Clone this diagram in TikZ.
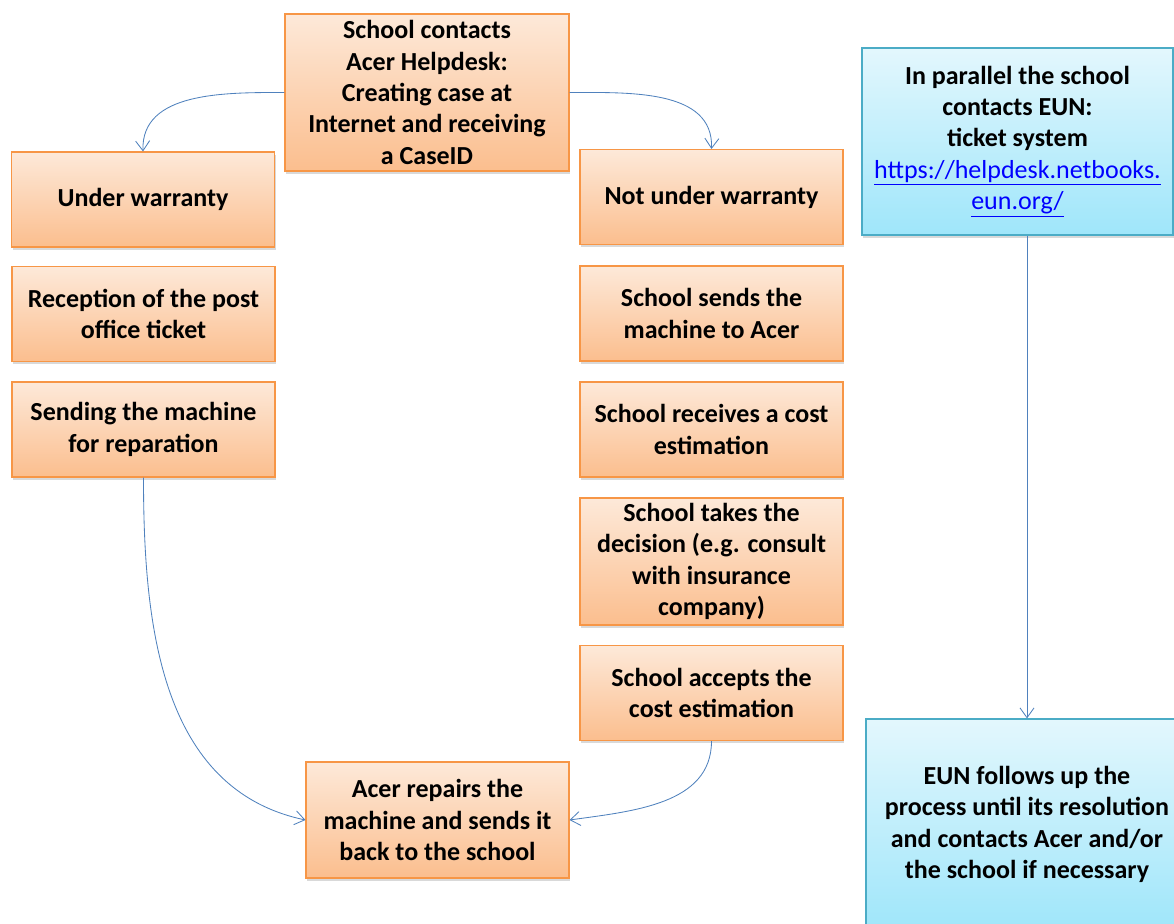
\documentclass[tikz,border=0pt]{standalone}
\usepackage{fontspec}
\setmainfont{Carlito}
\usetikzlibrary{arrows.meta,shadows}

\definecolor{orangetop}{RGB}{253,233,217}
\definecolor{orangebot}{RGB}{251,190,142}
\definecolor{orangeline}{RGB}{247,150,70}
\definecolor{bluetop}{RGB}{227,247,253}
\definecolor{bluebot}{RGB}{159,230,250}
\definecolor{blueline}{RGB}{75,172,198}
\definecolor{flowblue}{RGB}{79,129,189}
\definecolor{linkblue}{RGB}{0,0,255}

\tikzset{
  boxtext/.style={align=center, inner sep=2pt,
    font=\fontsize{18.5}{22.3}\selectfont\bfseries},
  stepbox/.style={boxtext, draw=orangeline, line width=0.8pt,
    top color=orangetop, bottom color=orangebot,
    minimum width=6.575cm, minimum height=2.375cm,
    drop shadow={opacity=0.3, shadow xshift=1pt, shadow yshift=-2pt}},
  eunbox/.style={boxtext, draw=blueline, line width=0.8pt,
    top color=bluetop, bottom color=bluebot,
    drop shadow={opacity=0.3, shadow xshift=1pt, shadow yshift=-2pt}},
  flow/.style={draw=flowblue, line width=0.6pt,
    -{Straight Barb[length=7pt, width=10pt]}}
}

\begin{document}
\begin{tikzpicture}
  \useasboundingbox (0, 0) rectangle (29.35, -23.1);
  \clip (0, 0) rectangle (29.35, -23.1);

  % Helpdesk
  \node[stepbox, minimum width=7.1cm, minimum height=3.925cm] (helpdesk) at (10.675, -2.3125)
    {School contacts\\Acer Helpdesk:\\Creating case at\\Internet and receiving\\a CaseID};

  % Under warranty
  \node[stepbox] (warranty) at (3.575, -4.9875) {Under warranty};
  \node[stepbox] (ticket) at (3.5875, -7.85) {Reception of the post\\office ticket};
  \node[stepbox] (sending) at (3.5875, -10.7375) {Sending the machine\\for reparation};

  % Not under warranty
  \node[stepbox] (nowarranty) at (17.7875, -4.925) {Not under warranty};
  \node[stepbox] (sendacer) at (17.7875, -7.8375) {School sends the\\machine to Acer};
  \node[stepbox] (estimate) at (17.7875, -10.7375) {School receives a cost\\estimation};
  \node[stepbox, minimum height=3.175cm] (decision) at (17.7875, -14.0375)
    {School takes the\\decision (e.g. consult\\with insurance\\company)};
  \node[stepbox] (accept) at (17.7875, -17.325) {School accepts the\\cost estimation};

  % Repair
  \node[stepbox, minimum height=2.9cm] (repair) at (10.9375, -20.5)
    {Acer repairs the\\machine and sends it\\back to the school};

  % EUN side
  \node[eunbox, minimum width=7.775cm, minimum height=4.675cm] (parallel) at (25.4375, -3.5375)
    {In parallel the school\\contacts EUN:\\ticket system\\
     \textcolor{linkblue}{\mdseries\underline{https://helpdesk.netbooks.}}\\
     \textcolor{linkblue}{\mdseries\underline{eun.org/}}};
  \node[eunbox, minimum width=8.05cm, minimum height=5.275cm] (follow) at (25.675, -20.6125)
    {EUN follows up the\\process until its resolution\\and contacts Acer and/or\\the school if necessary};

  % Connectors
  \draw[flow] (helpdesk.west) to[out=180, in=92] (warranty.north);
  \draw[flow] (helpdesk.east) to[out=0, in=88] (nowarranty.north);
  \draw[flow] (sending.south) to[out=-90, in=168] (repair.west);
  \draw[flow] (accept.south) to[out=-90, in=8] (repair.east);
  \draw[flow] (parallel.south -| follow.north) -- (follow.north);
\end{tikzpicture}
\end{document}
